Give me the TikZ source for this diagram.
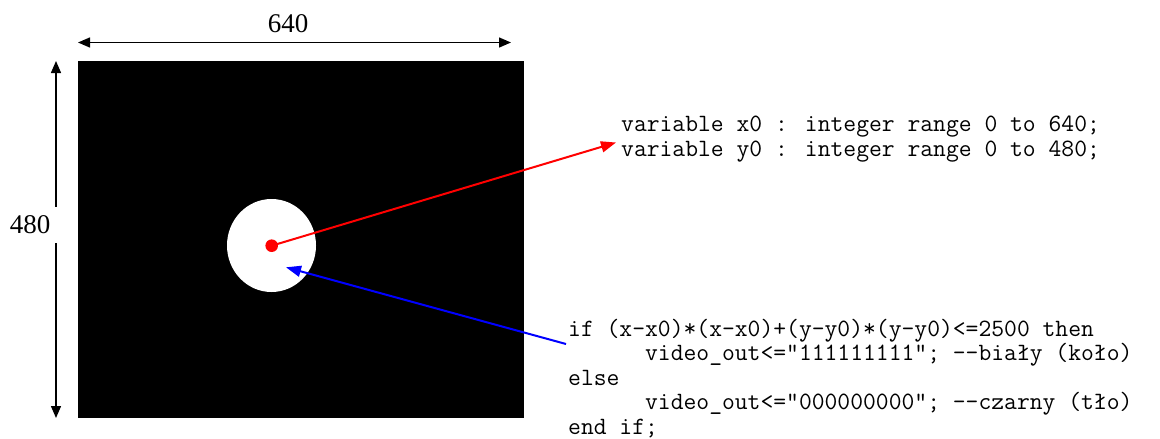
\documentclass[tikz,border=0pt]{standalone}
\usepackage{fontspec}
\setmainfont{Liberation Serif}
\usetikzlibrary{arrows.meta,shapes.geometric}
\begin{document}
\begin{tikzpicture}[x=1pt,y=-1pt,
  dimarrow/.style={line width=1.4pt,{Triangle[length=12pt,width=10pt]}-{Triangle[length=12pt,width=10pt]}},
  dimlabel/.style={font=\fontsize{27}{30}\selectfont,inner sep=0pt},
  code/.style={font=\ttfamily\fontsize{24.9}{24.5}\selectfont,align=left,inner sep=0pt,anchor=base west},
  pointer/.style={line width=2pt,-{Triangle[length=15pt,width=11pt]}}]
\useasboundingbox (0,0) rectangle (1160,439);
% screen
\fill[black] (78,61) rectangle (524,418);
\node[fill=white,draw=none,ellipse,minimum width=89pt,minimum height=93pt,inner sep=0pt] (circle) at (271.5,245.5) {};
\node[fill=red,circle,minimum size=12.6pt,inner sep=0pt] (dot) at (271.7,245.7) {};
% dimensions
\coordinate (tl) at (78,42.5);
\coordinate (tr) at (511,42.5);
\draw[dimarrow] (tl) -- (tr);
\node[dimlabel] (w) at (288,23.5) {640};
\coordinate (lt) at (56,61);
\coordinate (lb) at (56,418);
\draw[dimarrow] (lt) -- (lb);
\node[dimlabel,fill=white,inner xsep=12pt,minimum height=36pt] (h) at (30,225) {480};
% code
\node[code] (decl) at (621,156) {variable x0 : integer range 0 to 640;\\variable y0 : integer range 0 to 480;};
\node[code] (cond) at (568,434) {if (x-x0)*(x-x0)+(y-y0)*(y-y0)<=2500 then\\
\ \ \ \ \ \ video\_out<="111111111"; --biały (koło)\\
else\\
\ \ \ \ \ \ video\_out<="000000000"; --czarny (tło)\\
end if;};
% pointers
\coordinate (redtip) at (616,142.5);
\draw[pointer,red] (dot.center) -- (redtip);
\coordinate (bluetail) at (566,344);
\coordinate (bluetip) at (286,267.3);
\draw[pointer,blue] (bluetail) -- (bluetip);
\end{tikzpicture}
\end{document}
